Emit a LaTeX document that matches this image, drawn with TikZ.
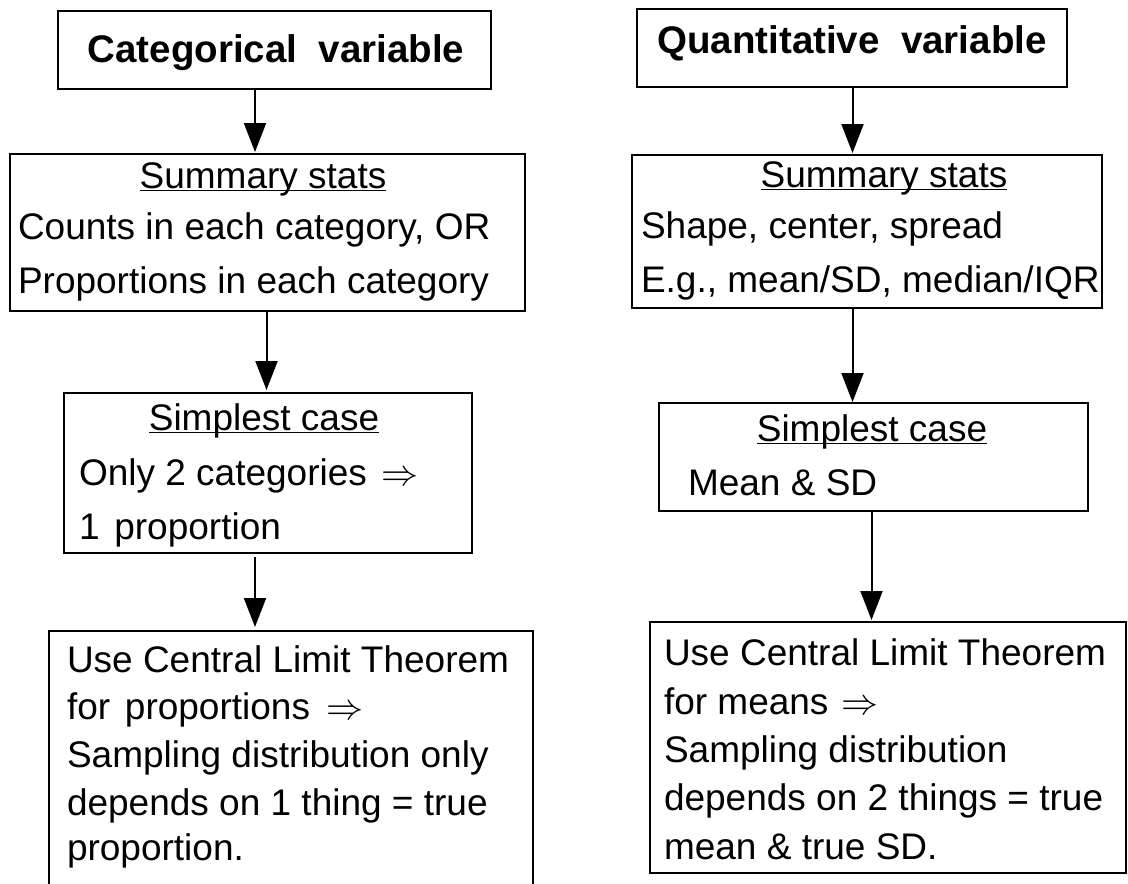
\documentclass[tikz,border=0pt]{standalone}
\usepackage{graphicx}
\usepackage{fontspec}
\setmainfont{Liberation Sans}
\usetikzlibrary{arrows.meta}
\newsavebox\myulbox
\newcommand\myul[1]{\sbox\myulbox{#1}\rlap{\rule[-3pt]{\wd\myulbox}{1.3pt}}\usebox\myulbox}
\newcommand\myimp{\resizebox{37pt}{!}{\fontsize{10}{12}\selectfont$\Rightarrow$}}
\begin{document}
\begin{tikzpicture}[x=1pt,y=-1pt,
  box/.style={draw, line width=2.6pt, inner sep=0pt, outer sep=0pt},
  openbox/.style={inner sep=0pt, outer sep=0pt},
  edge/.style={line width=2.6pt},
  txt/.style={inner sep=0pt, outer sep=0pt, font=\fontsize{37}{44}\selectfont},
  ttl/.style={inner sep=0pt, outer sep=0pt, font=\fontsize{38.5}{46}\selectfont\bfseries},
  arr/.style={line width=2pt, -{Triangle[length=29pt,width=22pt]}}]
\clip (0,0) rectangle (1128,884);
\fill[white] (0,0) rectangle (1128,884);

% boxes, left column
\node[box, minimum width=433pt, minimum height=78pt] (A) at (274.5,50) {};
\node[box, minimum width=515pt, minimum height=157pt] (B) at (267.5,232.5) {};
\node[box, minimum width=408pt, minimum height=160pt] (C) at (268,473) {};
\node[openbox, minimum width=484pt, minimum height=269pt] (D) at (291,765.5) {};
\draw[edge] (D.south west) -- (D.north west) -- (D.north east) -- (D.south east);

% boxes, right column
\node[box, minimum width=430pt, minimum height=78pt] (E) at (852,48) {};
\node[box, minimum width=470pt, minimum height=153pt] (F) at (867,231.5) {};
\node[box, minimum width=429pt, minimum height=108pt] (G) at (873.5,457) {};
\node[box, minimum width=476pt, minimum height=251pt] (H) at (888,747.5) {};

% arrow x positions
\coordinate (xa) at (255,0);
\coordinate (xb) at (266.5,0);
\coordinate (xe) at (852.5,0);
\coordinate (xg) at (871.5,0);

\draw[arr, shorten >=2pt] (A.south -| xa) -- (B.north -| xa);
\draw[arr, shorten >=3pt] (B.south -| xb) -- (C.north -| xb);
\draw[arr, shorten <=4pt, shorten >=4pt] (C.south -| xa) -- (D.north -| xa);
\draw[arr, shorten >=2pt] (E.south -| xe) -- (F.north -| xe);
\draw[arr, shorten >=1pt] (F.south -| xe) -- (G.north -| xe);
\draw[arr, shorten >=2pt] (G.south -| xg) -- (H.north -| xg);

% texts, left column
\node[ttl, anchor=base] (tA) at (276,62) {Categorical\ \ variable};
\node[txt, anchor=base] (tB1) at (263,188) {\myul{Summary stats}};
\node[txt, anchor=base west] (tB2) at (18,239) {Counts in each category, OR};
\node[txt, anchor=base west] (tB3) at (18,293) {Proportions in each category};
\node[txt, anchor=base] (tC1) at (264,430) {\myul{Simplest case}};
\node[txt, anchor=base west] (tC2) at (79,485) {Only 2 categories\hspace{0.4em}\myimp};
\node[txt, anchor=base west] (tC3) at (79,539) {1\hspace{0.4em}proportion};
\node[txt, anchor=base west] (tD1) at (67,672) {Use Central Limit Theorem};
\node[txt, anchor=base west] (tD2) at (67,719) {for\hspace{0.4em}proportions\hspace{0.45em}\myimp};
\node[txt, anchor=base west] (tD3) at (67,767) {Sampling distribution only};
\node[txt, anchor=base west] (tD4) at (67,815) {depends on 1 thing = true};
\node[txt, anchor=base west] (tD5) at (67,860) {proportion.};

% texts, right column
\node[ttl, anchor=base] (tE) at (852,53) {Quantitative\ \ variable};
\node[txt, anchor=base] (tF1) at (884,187) {\myul{Summary stats}};
\node[txt, anchor=base west] (tF2) at (641,238) {Shape, center, spread};
\node[txt, anchor=base west] (tF3) at (641,292) {E.g., mean/SD, median/IQR};
\node[txt, anchor=base] (tG1) at (872,441) {\myul{Simplest case}};
\node[txt, anchor=base west] (tG2) at (688,495) {Mean \& SD};
\node[txt, anchor=base west] (tH1) at (664,665) {Use Central Limit Theorem};
\node[txt, anchor=base west] (tH2) at (664,714) {for means\hspace{0.35em}\myimp};
\node[txt, anchor=base west] (tH3) at (664,762) {Sampling distribution};
\node[txt, anchor=base west] (tH4) at (664,810) {depends on 2 things = true};
\node[txt, anchor=base west] (tH5) at (664,859) {mean \& true SD.};
\end{tikzpicture}
\end{document}
